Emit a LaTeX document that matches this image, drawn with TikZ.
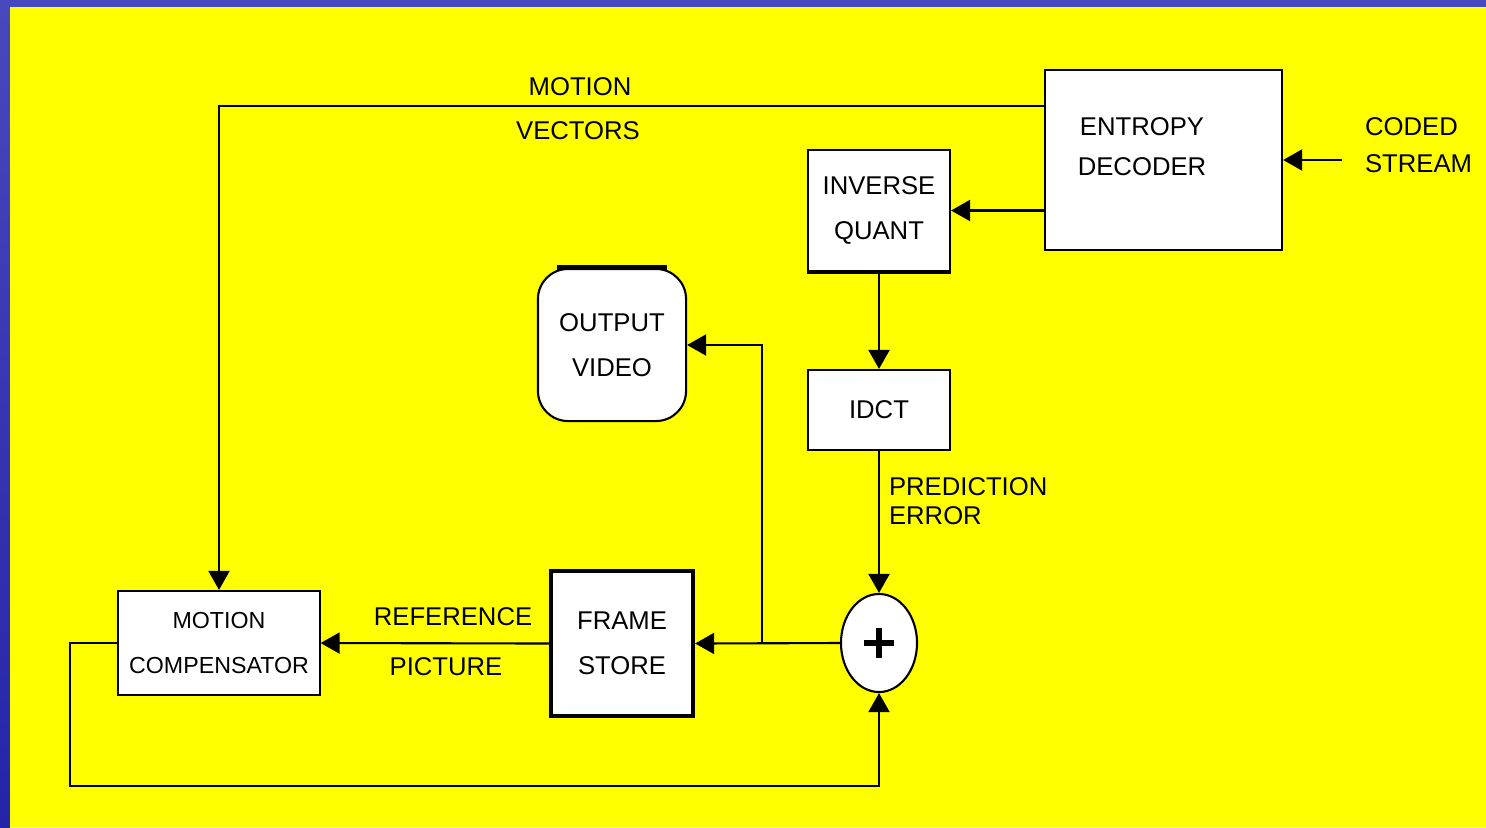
\documentclass[tikz,border=0pt]{standalone}
\usepackage{fontspec}
\setmainfont{Liberation Sans}
\usetikzlibrary{arrows.meta,shapes.geometric}

\definecolor{slideblue}{RGB}{72,72,190}
\definecolor{slidebluedk}{RGB}{36,36,168}
\definecolor{slideyellow}{RGB}{255,255,0}
\newcommand{\dgmfont}{\fontsize{7.3}{12.8}\selectfont}
\newcommand{\dgmsmall}{\fontsize{6.6}{12.8}\selectfont}

\begin{document}
\begin{tikzpicture}[x=0.01cm, y=-0.01cm, line width=0.6pt,
  >={Triangle[length=0.19cm, width=0.21cm]},
  box/.style={draw, fill=white, inner sep=0pt, align=center, font=\dgmfont},
  lbl/.style={inner sep=0pt, align=center, font=\dgmfont}]
  % slide background: blue frame, yellow field
  \fill[slideblue] (0,0) rectangle (1486,827);
  \shade[top color=slideblue, middle color=slideblue!55!white, bottom color=slidebluedk]
    (0,0) rectangle (10,827);
  \fill[slideyellow] (10,7) rectangle (1486,827);
  \useasboundingbox (0,0) rectangle (1486,827);

  % blocks
  \node[box, minimum width=2.37cm, minimum height=1.80cm] (ED) at (1163.5,160) {};
  \node[lbl, font=\fontsize{7.3}{11.4}\selectfont] (EDtxt) at (1142,147) {ENTROPY\\DECODER};
  \node[box, minimum width=1.42cm, minimum height=1.21cm] (IQ) at (879,210.5) {INVERSE\\QUANT};
  \node[box, minimum width=1.42cm, minimum height=0.80cm] (IDCT) at (879,410) {IDCT};
  \node[box, rounded corners=0.3cm, minimum width=1.48cm, minimum height=1.52cm] (OV) at (612,345) {OUTPUT\\VIDEO};
  \node[box, line width=1.2pt, minimum width=1.42cm, minimum height=1.45cm] (FS) at (622,643.5) {FRAME\\STORE};
  \node[box, font=\dgmsmall, minimum width=2.01cm, minimum height=1.04cm] (MC) at (219,643) {MOTION\\COMPENSATOR};
  \node[draw, fill=white, ellipse, inner sep=0pt, minimum width=0.76cm, minimum height=0.98cm] (ADD) at (879,643) {};

  % heavier edges
  \draw[line width=1.2pt] (IQ.south west) -- (IQ.south east);
  \draw[line width=1.4pt] ([xshift=0.2cm]OV.north west) -- ([xshift=-0.2cm]OV.north east);

  % plus sign in the adder
  \draw[line width=1.7pt] ([xshift=-0.15cm]ADD.center) -- ([xshift=0.15cm]ADD.center);
  \draw[line width=1.7pt] ([yshift=-0.15cm]ADD.center) -- ([yshift=0.15cm]ADD.center);

  % bends and free ends
  \coordinate (CS)  at (1342,160);
  \coordinate (MVb) at (219,106);
  \coordinate (BR)  at (762,643);
  \coordinate (FB)  at (70,786);

  % signal paths
  \draw[->] (CS) -- (ED.east);
  \draw[->] (ED.west |- MVb) -- (MVb) -- (MC.north);
  \draw[->] (ED.west |- IQ.east) -- (IQ.east);
  \draw[->] (IQ.south) -- (IDCT.north);
  \draw[->] (IDCT.south) -- (ADD.north);
  \draw[->] (ADD.west) -- (FS.east);
  \draw[->] (BR) -- (BR |- OV.east) -- (OV.east);
  \draw[->] (FS.west) -- (MC.east);
  \draw[->] (MC.west) -| (FB) -| (ADD.south);

  % labels
  \node[lbl] (MVtop) at (580,87)  {MOTION};
  \node[lbl] (MVbot) at (578,131) {VECTORS};
  \node[lbl] (RPtop) at (453,617) {REFERENCE};
  \node[lbl] (RPbot) at (446,667) {PICTURE};
  \node[lbl, anchor=west, align=left, font=\fontsize{7.3}{8.3}\selectfont] (PE) at (888,501) {PREDICTION\\ERROR};
  \node[lbl, anchor=west, align=left, font=\fontsize{7.3}{10.5}\selectfont] (CST) at (1364,145) {CODED\\STREAM};
\end{tikzpicture}
\end{document}
